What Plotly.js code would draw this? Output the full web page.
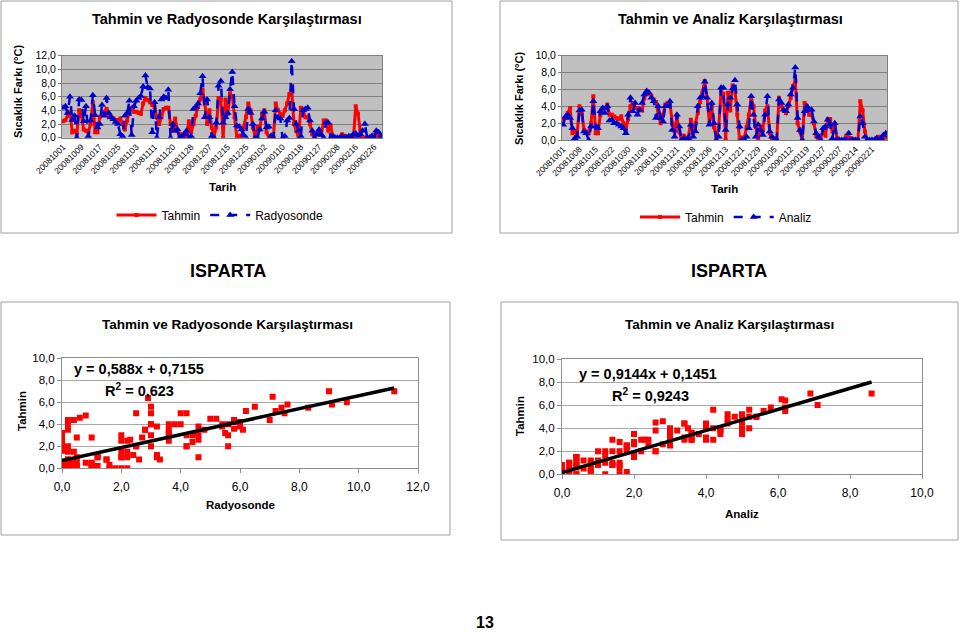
<!DOCTYPE html>
<html><head><meta charset="utf-8">
<script src="https://cdn.plot.ly/plotly-3.0.1.min.js"></script>
<style>html,body{margin:0;padding:0;background:#fff;}#chart{width:960px;height:632px;}</style>
</head><body><div id="chart"></div>
<script>
// ---- data ----
const tahmin = [
 2.4,2.6,3.2,3.8,0.8,1.0,0.6,4.0,3.2,1.2,
 1.0,0.8,2.0,5.2,0.8,0.8,3.0,3.5,3.8,4.2,
 3.0,3.0,2.8,2.6,2.5,2.8,2.0,1.2,2.5,4.0,
 4.4,3.8,3.8,3.6,3.5,5.0,5.8,5.5,5.2,4.8,
 4.5,3.0,2.0,3.0,4.2,4.4,4.4,2.0,1.0,2.8,
 1.0,0.0,0.5,0.2,0.4,2.4,0.8,2.0,3.2,4.5,
 5.6,7.0,5.0,2.0,4.0,1.5,0.3,1.5,5.8,5.5,
 0.0,5.6,3.5,6.5,6.0,3.0,0.0,0.3,0.2,1.5,
 3.0,5.0,4.0,1.5,0.2,1.6,1.2,3.5,4.0,0.8,
 0.0,0.2,0.0,5.0,4.0,3.5,3.2,4.0,5.0,6.4,
 7.0,2.0,1.0,0.0,4.4,4.0,3.0,3.0,2.0,0.5,
 0.0,0.5,1.0,0.5,2.5,2.5,1.0,1.8,0.2,0.0,
 0.0,0.0,0.5,0.3,0.2,0.1,0.0,0.0,4.6,3.5,
 1.0,0.0,0.0,0.0,0.0,0.2,0.4,0.3,0.5,0.3];
const radyosonde = [
 4.4,4.6,3.6,6.0,2.6,3.2,0.0,5.6,5.5,2.4,
 4.6,0.2,2.5,6.2,3.3,1.5,2.0,4.8,3.2,5.8,
 3.6,3.0,2.7,2.3,2.0,0.5,0.2,3.2,3.6,5.4,
 0.4,4.6,5.4,5.8,6.1,7.5,9.1,7.4,7.2,0.8,
 5.2,0.0,3.0,5.6,6.0,5.8,7.0,0.0,2.0,1.0,
 1.2,0.0,0.2,0.5,1.0,0.0,0.2,4.2,4.5,5.0,
 6.5,9.0,3.0,5.6,3.0,0.2,0.0,2.2,7.6,8.3,
 2.2,3.0,3.6,7.1,9.6,4.6,1.8,1.6,1.2,0.4,
 0.0,4.2,3.6,2.0,0.0,0.0,1.2,2.8,3.8,1.5,
 1.6,0.3,0.0,4.0,3.0,2.8,0.0,0.2,2.5,2.9,
 11.2,4.2,2.0,1.0,0.2,4.0,4.2,4.4,2.5,1.0,
 0.0,0.5,1.2,0.4,0.0,2.2,2.2,0.0,0.2,0.0,
 0.0,0.0,0.2,0.0,0.0,0.2,0.2,0.5,0.6,0.2,
 0.5,1.0,2.0,0.0,0.0,0.2,0.0,1.0,0.8,0.2];
const analiz = [
 1.8,2.8,3.0,2.6,1.4,0.2,0.4,3.5,3.6,1.0,
 0.8,0.0,1.6,4.6,1.6,1.4,3.4,3.8,3.2,4.0,
 2.3,2.4,2.0,2.0,1.8,1.6,1.4,0.8,3.0,5.0,
 3.4,4.4,3.0,3.6,4.4,5.4,5.8,5.6,5.0,4.6,
 2.6,4.0,2.6,2.2,4.0,4.0,4.6,1.2,0.4,3.0,
 1.6,0.0,0.2,0.0,0.2,1.8,0.4,1.0,4.0,5.0,
 5.2,6.9,5.0,1.8,4.4,2.0,0.0,0.4,6.2,6.2,
 1.2,4.2,5.0,6.1,7.1,4.2,1.6,0.0,0.0,0.4,
 1.4,5.2,3.0,0.4,1.8,1.2,0.6,3.0,5.2,1.0,
 0.4,0.0,0.0,4.8,4.4,3.6,3.4,4.2,5.4,6.2,
 8.6,2.6,1.2,0.0,3.4,4.0,3.6,3.6,2.2,0.8,
 0.4,0.0,1.4,1.6,2.4,1.8,0.2,2.0,0.0,0.0,
 0.0,0.0,0.0,0.8,0.0,0.0,0.0,0.0,2.8,2.0,
 0.4,0.0,0.0,0.0,0.0,0.2,0.0,0.2,0.6,0.8];
const dateLabels1 = ['20081001','20081009','20081017','20081025','20081103','20081111','20081120','20081128','20081207','20081215','20081225','20090102','20090110','20090118','20090127','20090208','20090216','20090226'];
const dateLabels2 = ['20081001','20081008','20081015','20081022','20081030','20081106','20081113','20081121','20081128','20081206','20081213','20081221','20081229','20090105','20090112','20090119','20090127','20090207','20090214','20090221'];
const labelStep1 = 8, labelStep2 = 7;
const fitRadyosonde = {slope: 0.588, intercept: 0.7155};
const fitAnaliz = {slope: 0.9144, intercept: 0.1451};
const eqRadyosonde = ['y = 0,588x + 0,7155', 'R<sup>2</sup> = 0,623'];
const eqAnaliz = ['y = 0,9144x + 0,1451', 'R<sup>2</sup> = 0,9243'];

// ---- helpers ----
const F = '"Liberation Sans", Arial, sans-serif';
const W = 960, H = 632;
const px = v => v / W, py = v => 1 - v / H;
const RED = '#FF0000', BLUE = '#0000CC';
const maxOf = a => Math.max.apply(null, a);

const traces = [
 {y: tahmin, type:'scatter', mode:'lines+markers', name:'Tahmin', xaxis:'x', yaxis:'y', legend:'legend',
  line:{color:RED, width:3}, marker:{symbol:'square', size:4, color:RED}},
 {y: radyosonde, type:'scatter', mode:'lines+markers', name:'Radyosonde', xaxis:'x', yaxis:'y', legend:'legend',
  line:{color:BLUE, width:2.5, dash:'dash'}, marker:{symbol:'triangle-up', size:7, color:BLUE}},
 {y: tahmin, type:'scatter', mode:'lines+markers', name:'Tahmin', xaxis:'x2', yaxis:'y2', legend:'legend2',
  line:{color:RED, width:3}, marker:{symbol:'square', size:4, color:RED}},
 {y: analiz, type:'scatter', mode:'lines+markers', name:'Analiz', xaxis:'x2', yaxis:'y2', legend:'legend2',
  line:{color:BLUE, width:2.5, dash:'dash'}, marker:{symbol:'triangle-up', size:7, color:BLUE}},
 {x: radyosonde, y: tahmin, type:'scatter', mode:'markers', xaxis:'x3', yaxis:'y3', showlegend:false,
  marker:{symbol:'square', size:6, color:RED}},
 {x: [0, maxOf(radyosonde)], y: [0, maxOf(radyosonde)].map(v => fitRadyosonde.slope*v + fitRadyosonde.intercept),
  type:'scatter', mode:'lines', xaxis:'x3', yaxis:'y3', showlegend:false, line:{color:'#000', width:3.5}},
 {x: analiz, y: tahmin, type:'scatter', mode:'markers', xaxis:'x4', yaxis:'y4', showlegend:false,
  marker:{symbol:'square', size:6, color:RED}},
 {x: [0, maxOf(analiz)], y: [0, maxOf(analiz)].map(v => fitAnaliz.slope*v + fitAnaliz.intercept),
  type:'scatter', mode:'lines', xaxis:'x4', yaxis:'y4', showlegend:false, line:{color:'#000', width:3.5}}
];

const tsX = (labels, step, n) => ({
  range:[-0.5, n-0.5], tickmode:'array', tickvals: labels.map((_, i) => i*step), ticktext: labels,
  tickangle:-45, tickfont:{size:8.5, family:F}, showgrid:false, zeroline:false,
  showline:true, mirror:true, linecolor:'#808080', ticks:'', fixedrange:true
});
const tsY = (max) => ({
  range:[0, max], dtick:2, tickformat:'.1f', tickfont:{size:10.5, family:F}, gridcolor:'#808080',
  zeroline:false, showline:true, mirror:true, linecolor:'#808080', ticks:'outside', ticklen:3, tickcolor:'#808080'
});
const scX = (max) => ({
  range:[0, max], dtick:2, tickformat:'.1f', tickfont:{size:12, family:F}, showgrid:false, zeroline:false,
  showline:true, mirror:true, linecolor:'#909090', ticks:'outside', ticklen:4, tickcolor:'#909090', ticklabelstandoff:3
});
const scY = () => ({
  range:[0, 10], dtick:2, tickformat:'.1f', tickfont:{size:11.5, family:F}, gridcolor:'#A8A8A8',
  zeroline:false, showline:true, mirror:true, linecolor:'#909090', ticks:'outside', ticklen:4, tickcolor:'#909090'
});

const ann = (text, x, y, size, opts) => Object.assign({
  text, x: px(x), y: py(y), xref:'paper', yref:'paper', showarrow:false,
  font:{size, family:F, color:'#000'}, xanchor:'center', yanchor:'middle'
}, opts || {});

const box = (x0, y0, x1, y1) => ({type:'rect', xref:'paper', yref:'paper',
  x0:px(x0), x1:px(x1), y0:py(y1), y1:py(y0), line:{color:'#A0A0A0', width:1}, layer:'below'});
const bg = (xa, ya) => ({type:'rect', xref: xa+' domain', yref: ya+' domain', x0:0, x1:1, y0:0, y1:1,
  fillcolor:'#C0C0C0', line:{width:0}, layer:'below'});

const layout = {
  width:W, height:H, margin:{l:0, r:0, t:0, b:0}, paper_bgcolor:'#ffffff', plot_bgcolor:'rgba(0,0,0,0)',
  separators:',.', font:{family:F, color:'#000'}, showlegend:true,
  xaxis: Object.assign(tsX(dateLabels1, labelStep1, tahmin.length), {domain:[px(62), px(382)], anchor:'y'}),
  yaxis: Object.assign(tsY(12), {domain:[py(137.7), py(55.7)], anchor:'x'}),
  xaxis2: Object.assign(tsX(dateLabels2, labelStep2, tahmin.length), {domain:[px(562), px(887)], anchor:'y2'}),
  yaxis2: Object.assign(tsY(10), {domain:[py(140), py(55.7)], anchor:'x2'}),
  xaxis3: Object.assign(scX(12), {domain:[px(62), px(418)], anchor:'y3'}),
  yaxis3: Object.assign(scY(), {domain:[py(468.3), py(358.3)], anchor:'x3'}),
  xaxis4: Object.assign(scX(10), {domain:[px(562), px(922)], anchor:'y4'}),
  yaxis4: Object.assign(scY(), {domain:[py(474.3), py(359)], anchor:'x4'}),
  legend:{orientation:'h', x:px(220), y:py(215), xanchor:'center', yanchor:'middle',
    font:{size:12, family:F}, bgcolor:'rgba(0,0,0,0)', itemwidth:40, tracegroupgap:0},
  legend2:{orientation:'h', x:px(726), y:py(217), xanchor:'center', yanchor:'middle',
    font:{size:12, family:F}, bgcolor:'rgba(0,0,0,0)', itemwidth:40, tracegroupgap:0},
  shapes:[
    box(1, 1, 452, 233), box(500, 1, 958, 233), box(1, 302, 450, 535), box(501, 302, 958, 540),
    bg('x', 'y'), bg('x2', 'y2')
  ],
  annotations:[
    ann('<b>Tahmin ve Radyosonde Karşılaştırması</b>', 227, 19, 14.5),
    ann('<b>Tahmin ve Analiz Karşılaştırması</b>', 730, 19, 14.5),
    ann('<b>Sıcaklık Farkı (°C)</b>', 18, 92, 11, {textangle:-90}),
    ann('<b>Sıcaklık Farkı (°C)</b>', 519, 99, 11, {textangle:-90}),
    ann('<b>Tarih</b>', 222, 187, 11.5),
    ann('<b>Tarih</b>', 724, 189, 11.5),
    ann('<b>ISPARTA</b>', 228, 271, 18),
    ann('<b>ISPARTA</b>', 729, 271, 18),
    ann('<b>Tahmin ve Radyosonde Karşılaştırması</b>', 227, 324, 13.5),
    ann('<b>Tahmin ve Analiz Karşılaştırması</b>', 729, 324, 13.5),
    ann('<b>Tahmin</b>', 22, 411, 11.5, {textangle:-90}),
    ann('<b>Tahmin</b>', 520, 416, 11.5, {textangle:-90}),
    ann('<b>Radyosonde</b>', 240, 505, 11.5),
    ann('<b>Analiz</b>', 742, 514, 11.5),
    ann('<b>' + eqRadyosonde[0] + '</b>', 72, 369, 14.5, {xanchor:'left'}),
    ann('<b>' + eqRadyosonde[1] + '</b>', 103, 390, 14.5, {xanchor:'left'}),
    ann('<b>' + eqAnaliz[0] + '</b>', 577, 374, 14.5, {xanchor:'left'}),
    ann('<b>' + eqAnaliz[1] + '</b>', 610, 395, 14.5, {xanchor:'left'}),
    ann('<b>13</b>', 485, 622, 16)
  ]
};

Plotly.newPlot('chart', traces, layout, {staticPlot:true, displayModeBar:false});
</script>
</body></html>
